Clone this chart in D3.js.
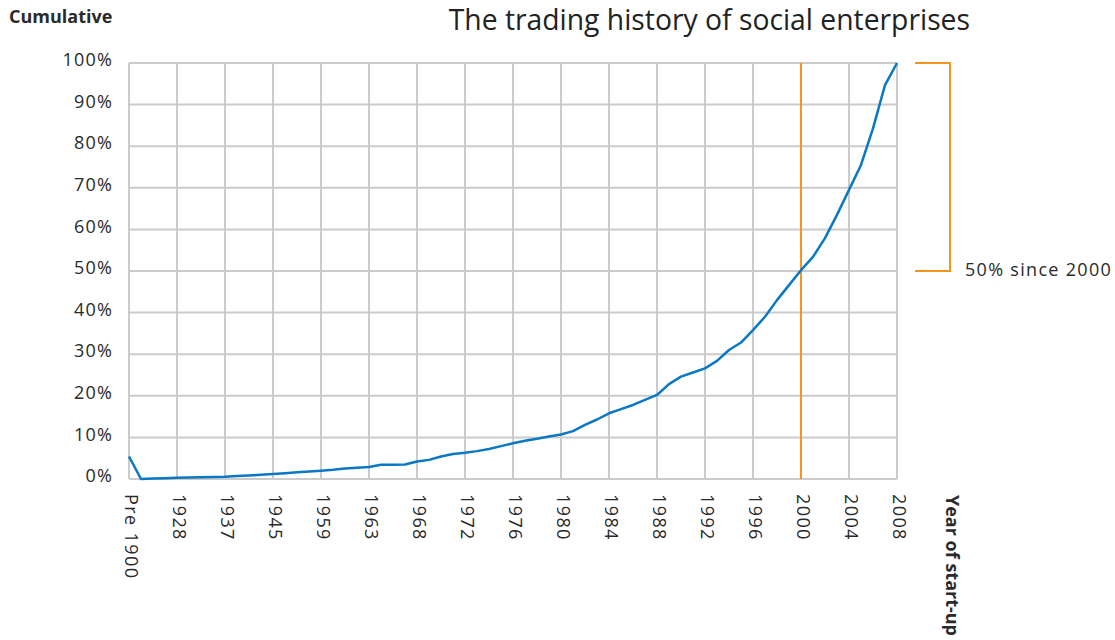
<!DOCTYPE html>
<html><head><meta charset="utf-8">
<script src="https://cdn.jsdelivr.net/npm/d3@7"></script>
<style>
html,body{margin:0;padding:0;background:#fff;}
svg{display:block;}
text{font-family:"Open Sans","Noto Sans",sans-serif;}
</style></head>
<body>
<script>
const categories = ["Pre 1900","1900","1910","1920","1928","1930","1932","1935","1937","1939","1940","1943","1945","1948","1952","1955","1959","1960","1961","1962","1963","1964","1965","1967",
"1968","1969","1970","1971","1972","1973","1974","1975","1976","1977","1978","1979","1980","1981","1982","1983","1984","1985","1986","1987","1988","1989","1990","1991","1992","1993","1994","1995","1996","1997","1998","1999","2000","2001","2002","2003","2004","2005","2006","2007","2008"];
const cumulative = [5.4,0,0.1,0.2,0.3,0.35,0.45,0.5,0.55,0.7,0.85,1.0,1.2,1.4,1.6,1.8,2.0,2.2,2.5,2.7,2.9,3.4,3.45,3.5,
4.2,4.6,5.4,6.0,6.3,6.7,7.2,7.9,8.6,9.2,9.7,10.2,10.7,11.5,13.0,14.3,15.8,16.8,17.8,19.0,20.2,22.8,24.6,25.6,26.6,28.4,31.0,32.8,35.8,39.0,43.0,46.6,50.2,53.4,57.9,63.5,69.5,75.5,84.3,94.7,100];
const tickLabels = ["Pre 1900","1928","1937","1945","1959","1963","1968","1972","1976","1980","1984","1988","1992","1996","2000","2004","2008"];
const yTicks = [0,10,20,30,40,50,60,70,80,90,100];
const highlightYear = "2000";
const annotation = "50% since 2000";

const W=1115,H=640;
const m={left:129,right:897,top:63,bottom:479};
const svg=d3.select("body").append("svg").attr("width",W).attr("height",H);

const x=d3.scalePoint().domain(categories).range([m.left,m.right]);
const y=d3.scaleLinear().domain([0,100]).range([m.bottom,m.top]);

const grid="#cbcbcb";
const txt="#2a2a2a";
svg.append("g").selectAll("line").data(yTicks).join("line")
  .attr("x1",m.left).attr("x2",m.right).attr("y1",d=>y(d)).attr("y2",d=>y(d))
  .attr("stroke",grid).attr("stroke-width",2);
svg.append("g").selectAll("line").data(tickLabels).join("line")
  .attr("x1",d=>x(d)).attr("x2",d=>x(d)).attr("y1",m.top).attr("y2",m.bottom)
  .attr("stroke",grid).attr("stroke-width",2);

const yAxis=d3.axisLeft(y).tickValues(yTicks).tickFormat(d=>d+"%").tickSize(0).tickPadding(16);
const ya=svg.append("g").attr("transform",`translate(${m.left},0)`).call(yAxis);
ya.select(".domain").remove();
ya.selectAll("text").attr("font-size",18).attr("fill",txt).attr("dy","0.15em")
  .attr("letter-spacing",1.2)
  .style("font-family",'"Open Sans","Noto Sans",sans-serif');

const xAxis=d3.axisBottom(x).tickValues(tickLabels).tickSize(0);
const xa=svg.append("g").attr("transform",`translate(0,${m.bottom})`).call(xAxis);
xa.select(".domain").remove();
xa.selectAll("text").attr("font-size",18).attr("fill",txt)
  .attr("text-anchor","start").attr("transform","rotate(90)")
  .attr("x",15).attr("y",0).attr("dy","0.25em").attr("letter-spacing",1.4)
  .style("font-family",'"Open Sans","Noto Sans",sans-serif');

svg.append("line").attr("x1",x(highlightYear)).attr("x2",x(highlightYear))
  .attr("y1",m.top).attr("y2",m.bottom).attr("stroke","#f7941d").attr("stroke-width",2);

svg.append("path").datum(cumulative)
  .attr("d",d3.line().x((d,i)=>x(categories[i])).y(d=>y(d)))
  .attr("fill","none").attr("stroke","#0a78c3").attr("stroke-width",2.5).attr("stroke-linejoin","round");

const bx0=915,bx1=950;
svg.append("path").attr("d",`M${bx0},${y(100)}H${bx1}V${y(50)}H${bx0}`)
  .attr("fill","none").attr("stroke","#f7941d").attr("stroke-width",2);
svg.append("text").attr("x",965).attr("y",y(50)).attr("dy","0.3em")
  .attr("font-size",18).attr("letter-spacing",1.3).attr("fill",txt).text(annotation);

svg.append("text").attr("x",970).attr("y",30).attr("text-anchor","end")
  .attr("font-size",28.3).attr("fill","#222").text("The trading history of social enterprises");
svg.append("text").attr("x",9).attr("y",23).attr("font-size",18).attr("font-weight","bold")
  .attr("fill",txt).text("Cumulative");
svg.append("text").attr("transform",`translate(946,495) rotate(90)`)
  .attr("font-size",18).attr("font-weight","bold").attr("fill",txt).text("Year of start-up");
</script>
</body></html>
